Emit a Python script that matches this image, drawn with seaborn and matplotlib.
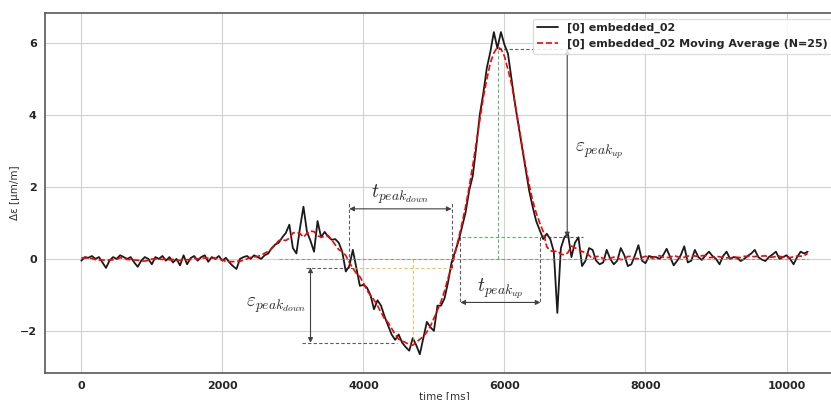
import numpy as np
import pandas as pd
import matplotlib.pyplot as plt
import seaborn as sns


SAMPLE_MS = 50
# strain signal, one value every 50 ms (0 .. 10300 ms)
STRAIN = [
    -0.05, 0.05, 0.03, 0.08, 0.0, 0.05, -0.1, -0.25, -0.05, 0.05,
    0.0, 0.1, 0.05, 0.0, 0.05, -0.1, -0.22, -0.05, 0.05, 0.0,
    -0.15, 0.05, 0.0, 0.08, -0.05, 0.05, -0.1, 0.0, -0.18, 0.1,
    -0.15, 0.02, 0.08, -0.05, 0.05, 0.1, -0.08, 0.05, 0.0, 0.08,
    -0.05, 0.03, -0.1, -0.2, -0.28, 0.0, 0.05, 0.08, 0.0, 0.1,
    0.05, 0.0, 0.1, 0.15, 0.3, 0.4, 0.45, 0.6, 0.72, 0.95,
    0.3, 0.15, 0.85, 1.45, 0.75, 0.5, 0.2, 1.05, 0.6, 0.75,
    0.62, 0.53, 0.55, 0.45, 0.2, -0.35, -0.2, 0.25, -0.25, -0.75,
    -0.72, -0.8, -1.0, -1.4, -1.15, -1.3, -1.6, -1.85, -2.1, -2.25,
    -2.1, -2.33, -2.45, -2.55, -2.2, -2.4, -2.65, -2.2, -1.75, -1.9,
    -2.0, -1.3, -1.3, -1.1, -0.65, -0.1, 0.2, 0.5, 0.9, 1.3,
    1.9, 2.3, 3.1, 4.0, 4.6, 5.3, 5.75, 6.3, 5.85, 6.3,
    5.95, 5.7, 5.0, 4.3, 3.7, 3.1, 2.5, 1.9, 1.45, 1.05,
    0.8, 0.55, 0.7, 0.55, 0.2, -1.5, 0.3, 0.6, 0.7, 0.05,
    0.45, 0.6, -0.2, -0.05, 0.3, 0.25, -0.05, -0.15, -0.1, 0.25,
    0.0, -0.15, -0.05, 0.3, 0.1, -0.2, -0.15, 0.1, 0.38, -0.05,
    -0.12, 0.08, 0.05, 0.05, 0.0, 0.1, 0.28, 0.05, -0.18, -0.05,
    0.1, 0.35, -0.1, -0.05, 0.25, 0.05, -0.03, 0.1, 0.2, 0.08,
    0.0, -0.15, 0.08, 0.2, 0.0, 0.05, 0.03, -0.06, 0.0, 0.08,
    0.15, 0.25, 0.05, -0.02, -0.06, 0.05, 0.12, 0.2, 0.0, 0.05,
    0.1, 0.0, -0.15, 0.05, 0.2, 0.15, 0.2,
]
MA_WINDOW = 7  # ~ same time span as N=25 on the raw logger rate

LABEL_RAW = "[0] embedded_02"
LABEL_MA = "[0] embedded_02 Moving Average (N=25)"

# characteristic points of the event (ms / µm/m)
EVENT_START = 2800
DOWN_T0, DOWN_T1 = 3800, 5250
DOWN_LEVEL, DOWN_MIN, DOWN_MIN_T = -0.24, -2.33, 4710
UP_T0, UP_T1 = 5375, 6510
UP_LEVEL, UP_MAX, UP_MAX_T = 0.6, 5.82, 5915


def hline(ax, y, x0, x1, color="0.2", alpha=0.8):
    ax.plot([x0, x1], [y, y], color=color, ls=(0, (3, 2)), lw=0.8, alpha=alpha)


def vline(ax, x, y0, y1, color="0.2", alpha=0.8):
    ax.plot([x, x], [y0, y1], color=color, ls=(0, (3, 2)), lw=0.8, alpha=alpha)


def arrow(ax, p0, p1):
    ax.annotate(
        "", xy=p1, xytext=p0,
        arrowprops=dict(arrowstyle="<|-|>", color="0.25", lw=0.8,
                        mutation_scale=7, shrinkA=0, shrinkB=0),
    )


def label(ax, x, y, s):
    ax.text(x, y, s, fontsize=14, ha="center", va="center", color="0.15")


def main():
    df = pd.DataFrame({"strain": STRAIN})
    df["time"] = df.index * SAMPLE_MS
    df["ma"] = df["strain"].rolling(MA_WINDOW, center=True, min_periods=1).mean()

    sns.set_style("whitegrid")
    plt.rcParams["font.family"] = ["DejaVu Sans"]
    plt.rcParams["mathtext.fontset"] = "cm"

    fig = plt.figure(figsize=(8.31, 4.0), dpi=100)
    ax = fig.add_axes([45 / 831, 27 / 400, 799 / 831, 360 / 400])

    sns.lineplot(data=df, x="time", y="strain", color="#1a1a1a", lw=1.3,
                 label=LABEL_RAW, ax=ax)
    sns.lineplot(data=df, x="time", y="ma", color="red", lw=1.2,
                 linestyle="--", label=LABEL_MA, ax=ax)

    # baseline
    hline(ax, 0, EVENT_START, df["time"].iloc[-1], color="0.5", alpha=0.7)

    # negative peak
    hline(ax, DOWN_LEVEL, 3180, DOWN_T0 + 60)
    hline(ax, DOWN_LEVEL, DOWN_T0 + 60, DOWN_T1, color="orange", alpha=0.7)
    vline(ax, DOWN_MIN_T, 0, DOWN_MIN, color="orange", alpha=0.7)
    hline(ax, DOWN_MIN, 3130, 4480)
    arrow(ax, (3250, DOWN_LEVEL), (3250, DOWN_MIN))
    label(ax, 2765, -1.28, r"$\varepsilon_{peak_{down}}$")

    vline(ax, DOWN_T0, DOWN_LEVEL, 1.55)
    vline(ax, DOWN_T1, DOWN_LEVEL, 1.55)
    arrow(ax, (DOWN_T0, 1.39), (DOWN_T1, 1.39))
    label(ax, (DOWN_T0 + DOWN_T1) / 2, 1.8, r"$t_{peak_{down}}$")

    # positive peak
    vline(ax, UP_MAX_T, 0, UP_MAX, color="green", alpha=0.6)
    hline(ax, UP_LEVEL, 5404, 6539, color="green", alpha=0.6)
    hline(ax, UP_MAX, UP_MAX_T, 6900)
    hline(ax, UP_LEVEL, 6539, 7120)
    arrow(ax, (6890, UP_LEVEL), (6890, UP_MAX))
    label(ax, 7350, 3.0, r"$\varepsilon_{peak_{up}}$")

    vline(ax, UP_T0, UP_LEVEL, -1.2)
    vline(ax, UP_T1, UP_LEVEL, -1.2)
    arrow(ax, (UP_T0, -1.21), (UP_T1, -1.21))
    label(ax, (UP_T0 + UP_T1) / 2, -0.84, r"$t_{peak_{up}}$")

    ax.set_xlim(-515, 10815)
    ax.set_ylim(-3.17, 6.83)
    ax.set_xticks([0, 2000, 4000, 6000, 8000, 10000])
    ax.set_yticks([-2, 0, 2, 4, 6])
    ax.set_xlabel("time [ms]", fontsize=7.5, color="0.2", labelpad=0)
    ax.set_ylabel("Δε [µm/m]", fontsize=7.5, color="0.2", labelpad=0)
    ax.tick_params(axis="both", labelsize=8, colors="0.15", length=3,
                   width=0.8, pad=3)
    for lbl in ax.get_xticklabels() + ax.get_yticklabels():
        lbl.set_fontweight("bold")
    ax.grid(True, color="0.82", lw=0.8)
    for side in ["left", "bottom", "top"]:
        ax.spines[side].set_color("0.35")
        ax.spines[side].set_linewidth(1.2)

    leg = ax.legend(loc="upper right", bbox_to_anchor=(0.9925, 1.0),
                    prop={"size": 8, "weight": "bold"},
                    frameon=True, framealpha=0.85, edgecolor="0.85",
                    handlelength=1.9, borderaxespad=0.5)
    for text in leg.get_texts():
        text.set_color("0.15")

    fig.savefig("out.png", dpi=100)


if __name__ == "__main__":
    main()
